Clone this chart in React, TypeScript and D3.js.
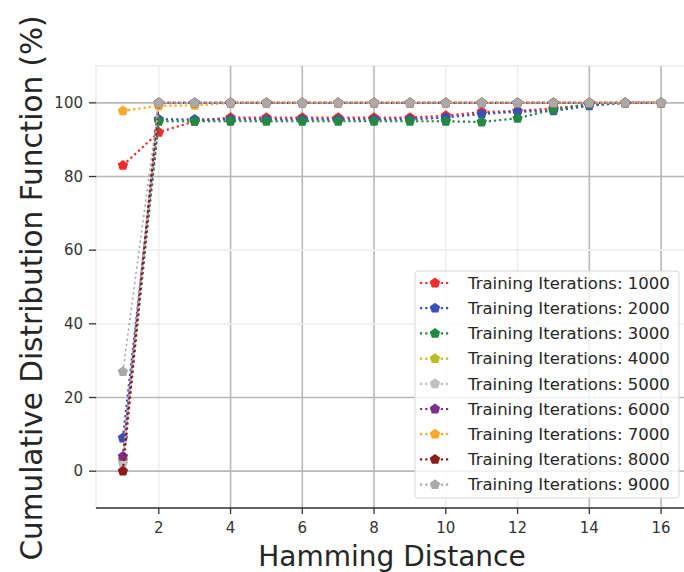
import * as d3 from 'd3';
import {useEffect, useRef} from "react";

// hamming distance on the x axis
const hamming = [1, 2, 3, 4, 5, 6, 7, 8, 9, 10, 11, 12, 13, 14, 15, 16];

// cumulative distribution (%) per training run
const iter1000 = [83, 92, 95, 96, 96, 96, 96, 96, 96, 96.5, 97.5, 97.8, 98.5, 99.5, 100, 100];
const iter2000 = [9, 95.5, 95.5, 95.5, 95.5, 95.5, 95.5, 95.5, 95.5, 96, 97, 97.6, 97.8, 99.2, 100, 100];
const iter3000 = [3, 95, 95, 95, 95, 95, 95, 95, 95, 95, 94.8, 95.8, 98.2, 99.6, 100, 100];
const iter4000 = [3, 100, 100, 100, 100, 100, 100, 100, 100, 100, 100, 100, 100, 100, 100, 100];
const iter5000 = [2, 100, 100, 100, 100, 100, 100, 100, 100, 100, 100, 100, 100, 100, 100, 100];
const iter6000 = [4, 100, 100, 100, 100, 100, 100, 100, 100, 100, 100, 100, 100, 100, 100, 100];
const iter7000 = [97.8, 99.2, 99.3, 100, 100, 100, 100, 100, 100, 100, 100, 100, 100, 100, 100, 100];
const iter8000 = [0, 100, 100, 100, 100, 100, 100, 100, 100, 100, 100, 100, 100, 100, 100, 100];
const iter9000 = [27, 100, 100, 100, 100, 100, 100, 100, 100, 100, 100, 100, 100, 100, 100, 100];

const seriesNames = ["1000", "2000", "3000", "4000", "5000", "6000", "7000", "8000", "9000"];
const seriesValues = [iter1000, iter2000, iter3000, iter4000, iter5000, iter6000, iter7000, iter8000, iter9000];
const colors = ["#f52a2a", "#3b4fb8", "#228844", "#bcbd22", "#c0c0c0", "#7d2e8e", "#ffa726", "#8b1c1c", "#a9a9a9"];

const xTicks = [2, 4, 6, 8, 10, 12, 14, 16];
const yTicks = [0, 20, 40, 60, 80, 100];
// grid lines that come out faint in the picture
const faintX = [2, 10, 12];
const faintY = [40, 60];

// pentagon marker for d3.symbol
const pentagon = {
    draw(context, size) {
        const r = Math.sqrt(size / 2.378);
        for (let i = 0; i < 5; i++) {
            const a = -Math.PI / 2 + i * 2 * Math.PI / 5;
            const px = r * Math.cos(a), py = r * Math.sin(a);
            if (i === 0) context.moveTo(px, py); else context.lineTo(px, py);
        }
        context.closePath();
    }
};

export default function App() {
    const svgRef = useRef(null);

    const width = 684;
    const height = 572;
    const margin = {top: 66, right: -4, left: 96, bottom: 64};

    useEffect(() => {
        const svg = d3.select(svgRef.current)
            .attr('width', width)
            .attr('height', height);

        svg.selectAll("*").remove();

        const font = "DejaVu Sans";

        const x = d3.scaleLinear()
            .domain([0.25, 16.75])
            .range([margin.left, width - margin.right]);

        const y = d3.scaleLinear()
            .domain([-10, 110])
            .range([height - margin.bottom, margin.top]);

        const plotLeft = margin.left, plotRight = width - margin.right;
        const plotTop = margin.top, plotBottom = height - margin.bottom;

        // frame (light)
        svg.append("rect")
            .attr("x", plotLeft).attr("y", plotTop)
            .attr("width", plotRight - plotLeft).attr("height", plotBottom - plotTop)
            .attr("fill", "white").attr("stroke", "#ececec").attr("stroke-width", 1.5);

        // grid
        const grid = svg.append("g");
        grid.selectAll(".gx")
            .data(xTicks)
            .enter().append("line")
            .attr("x1", d => x(d)).attr("x2", d => x(d))
            .attr("y1", plotTop).attr("y2", plotBottom)
            .attr("stroke", d => faintX.includes(d) ? "#eeeeee" : "#b8b8b8")
            .attr("stroke-width", 1.6);
        grid.selectAll(".gy")
            .data(yTicks)
            .enter().append("line")
            .attr("x1", plotLeft).attr("x2", plotRight)
            .attr("y1", d => y(d)).attr("y2", d => y(d))
            .attr("stroke", d => faintY.includes(d) ? "#eeeeee" : "#b8b8b8")
            .attr("stroke-width", 1.6);

        // bottom spine + ticks
        svg.append("line")
            .attr("x1", plotLeft).attr("x2", plotRight)
            .attr("y1", plotBottom).attr("y2", plotBottom)
            .attr("stroke", "#333").attr("stroke-width", 1.6);

        svg.selectAll(".xt")
            .data(xTicks)
            .enter().append("line")
            .attr("x1", d => x(d)).attr("x2", d => x(d))
            .attr("y1", plotBottom).attr("y2", plotBottom + 6)
            .attr("stroke", "#333").attr("stroke-width", 1.3);

        svg.selectAll(".xl")
            .data(xTicks)
            .enter().append("text")
            .attr("x", d => x(d))
            .attr("y", plotBottom + 25)
            .attr("text-anchor", "middle")
            .attr("font-family", font).attr("font-size", 15).attr("fill", "#333")
            .text(d => d);

        svg.selectAll(".yt")
            .data(yTicks)
            .enter().append("line")
            .attr("x1", plotLeft - 7).attr("x2", plotLeft)
            .attr("y1", d => y(d)).attr("y2", d => y(d))
            .attr("stroke", "#333").attr("stroke-width", 1.3);

        svg.selectAll(".yl")
            .data(yTicks)
            .enter().append("text")
            .attr("x", plotLeft - 13)
            .attr("y", d => y(d))
            .attr("dy", "0.35em")
            .attr("text-anchor", "end")
            .attr("font-family", font).attr("font-size", 15).attr("fill", "#333")
            .text(d => d);

        // axis titles
        svg.append("text")
            .attr("x", (plotLeft + 688) / 2)
            .attr("y", 566)
            .attr("text-anchor", "middle")
            .attr("font-family", font).attr("font-size", 28).attr("fill", "#262626")
            .text("Hamming Distance");

        svg.append("text")
            .attr("transform", "translate(42,288) rotate(-90)")
            .attr("text-anchor", "middle")
            .attr("font-family", font).attr("font-size", 29.5).attr("fill", "#262626")
            .text("Cumulative Distribution Function (%)");

        // lines and markers
        const line = d3.line()
            .x((d, i) => x(hamming[i]))
            .y(d => y(d));

        const marker = d3.symbol().type(pentagon).size(70);

        const plot = svg.append("g");
        seriesValues.forEach((vals, k) => {
            plot.append("path")
                .datum(vals)
                .attr("d", line)
                .attr("fill", "none")
                .attr("stroke", colors[k])
                .attr("stroke-width", k === 4 || k === 8 ? 1.6 : 2.2)
                .attr("stroke-dasharray", "2.2,3");
            plot.selectAll(".m" + k)
                .data(vals)
                .enter().append("path")
                .attr("transform", (d, i) => `translate(${x(hamming[i])},${y(d)})`)
                .attr("d", marker)
                .attr("fill", colors[k]);
        });

        // legend
        const lx = 415, ly = 271, lw = 264, lh = 227, rowH = 25.2;
        const legend = svg.append("g");
        legend.append("rect")
            .attr("x", lx).attr("y", ly).attr("width", lw).attr("height", lh)
            .attr("rx", 3)
            .attr("fill", "white").attr("fill-opacity", 0.8)
            .attr("stroke", "#d6d6d6").attr("stroke-width", 1);

        const items = legend.selectAll(".legend-item")
            .data(seriesNames)
            .enter().append("g")
            .attr("transform", (d, i) => `translate(0,${ly + 12 + i * rowH})`);

        items.append("line")
            .attr("x1", lx + 5).attr("x2", lx + 35)
            .attr("y1", 0).attr("y2", 0)
            .attr("stroke", (d, i) => colors[i])
            .attr("stroke-width", 2.2)
            .attr("stroke-dasharray", "2.2,3");

        items.append("path")
            .attr("transform", `translate(${lx + 20},0)`)
            .attr("d", marker)
            .attr("fill", (d, i) => colors[i]);

        items.append("text")
            .attr("x", lx + 53)
            .attr("y", 0)
            .attr("dy", "0.35em")
            .attr("font-family", font).attr("font-size", 16.5).attr("fill", "#262626")
            .text(d => "Training Iterations: " + d);

        return () => {};
    }, []);

    return (<div>
        <style>{`body{margin:0}`}</style>
        <svg ref={svgRef} style={{display: "block"}}></svg>
    </div>);
}
